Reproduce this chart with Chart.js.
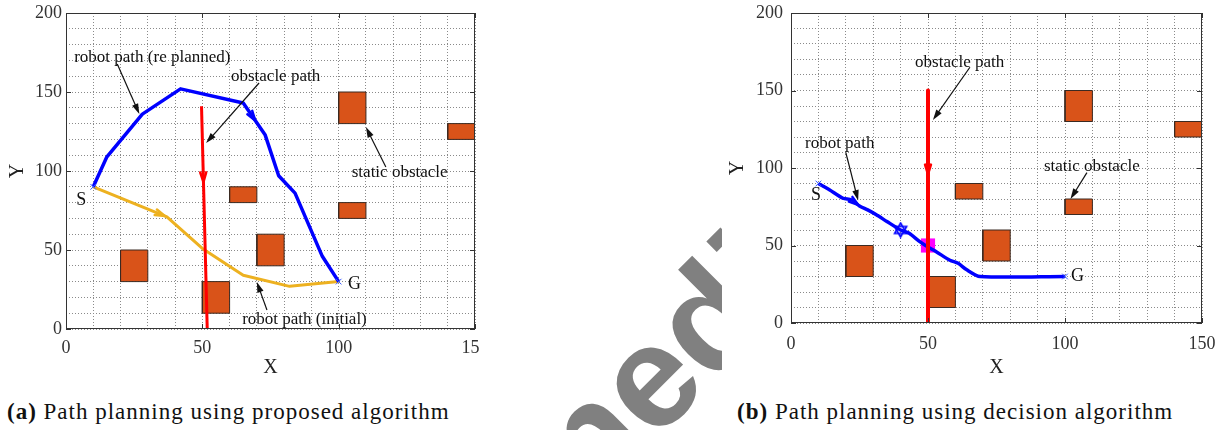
<!DOCTYPE html>
<html>
<head>
<meta charset="utf-8">
<script src="https://cdn.jsdelivr.net/npm/chart.js@4.4.0/dist/chart.umd.min.js"></script>
<style>
body { margin:0; background:#fff; width:1231px; height:430px; position:relative; overflow:hidden; font-family:"Liberation Serif", serif; }
#wm { position:absolute; left:555px; top:0; width:167px; height:430px; overflow:hidden; }
#wm div { position:absolute; left:-37px; top:457px; font:bold 145px/1 "Liberation Sans", Arial, sans-serif; color:#808080; transform-origin:0 123px; transform:rotate(-45deg); white-space:nowrap; }
#left { position:absolute; left:0; top:0; }
#right { position:absolute; left:720px; top:0; }
.cap { position:absolute; top:400px; font-size:23px; line-height:23px; letter-spacing:1px; color:#111; white-space:nowrap; }
</style>
</head>
<body>
<div id="wm"><div>Unedited</div></div>
<canvas id="left" width="480" height="385"></canvas>
<canvas id="right" width="511" height="385"></canvas>
<div class="cap" style="left:7px"><b>(a)</b> Path planning using proposed algorithm</div>
<div class="cap" style="left:737px"><b>(b)</b> Path planning using decision algorithm</div>
<script>
// 軸の目盛りラベル
const xTickLabels = [0, 50, 100, 150];
const yTickLabels = [0, 50, 100, 150, 200];

// 静的障害物（左下の角、幅、高さ）
const obstacleX = [100, 140, 60, 100, 70, 20, 50];
const obstacleY = [130, 120, 80, 70, 40, 30, 10];
const obstacleW = [10, 10, 10, 10, 10, 10, 10];
const obstacleH = [20, 10, 10, 10, 20, 20, 20];

// スタート S とゴール G
const startGoalX = [10, 100];
const startGoalY = [90, 30];

// (a) 提案アルゴリズム
const replannedX = [10, 15, 28, 42, 65, 73, 78, 84, 94, 100];
const replannedY = [90, 109, 136, 152, 143, 123, 97, 86, 46, 30];
const initialX = [10, 37, 50, 65, 82, 100];
const initialY = [90, 71, 51, 34, 27, 30];
const movingAX = [49.7, 51.8];
const movingAY = [141, 0];

// (b) 決定アルゴリズム
const decisionX = [10, 14, 19, 22, 25, 28, 31, 35, 40, 43, 47, 50, 53, 58, 61, 64, 69, 100];
const decisionY = [90, 86, 80.5, 79.5, 75.5, 73, 70, 65.5, 60, 58, 52.5, 49, 46, 40.5, 38.5, 34.5, 30, 30];
const movingBX = [50, 50];
const movingBY = [150, 0];
const starX = [40];
const starY = [60];
const meetX = [50];
const meetY = [50];

// 注釈 (a)
const notesA = ['robot path (re planned)', 'obstacle path', 'static obstacle', 'robot path (initial)', 'S', 'G'];
const notesAX = [3, 60.5, 104.8, 64.6, 3.8, 103.4];
const notesAY = [172, 160, 99, 6.3, 81.6, 28.5];
const pointerAFrom = [[18.8, 167.7], [70.8, 155.7], [117.3, 102.5], [73.7, 12]];
const pointerATo = [[26.9, 136], [51.4, 117.7], [110, 127.8], [70, 29.7]];

// 注釈 (b)
const notesB = ['obstacle path', 'robot path', 'static obstacle', 'S', 'G'];
const notesBX = [45.3, 5.1, 92.3, 7.3, 102.2];
const notesBY = [168, 116, 101, 82.6, 30];
const pointerBFrom = [[65.3, 165], [20, 110], [108, 97]];
const pointerBTo = [[51.8, 131], [24.5, 79], [102, 80]];

const pts = (xs, ys) => xs.map((x, i) => ({x: x, y: ys[i]}));

function hexagram(size, color) {
    let c = document.createElement('canvas');
    c.width = c.height = size;
    let g = c.getContext('2d');
    let r = size / 2 - 1.5, m = size / 2;
    g.strokeStyle = color;
    g.lineWidth = 1.6;
    [-Math.PI / 2, Math.PI / 2].forEach(rot => {
        g.beginPath();
        for (let k = 0; k < 3; k++) {
            let a = rot + k * 2 * Math.PI / 3;
            let px = m + r * Math.cos(a), py = m + r * Math.sin(a);
            if (k) g.lineTo(px, py); else g.moveTo(px, py);
        }
        g.closePath();
        g.stroke();
    });
    return c;
}

function obstacleSets() {
    return obstacleX.map((x, i) => ({
        data: pts([x, x + obstacleW[i], x + obstacleW[i], x, x],
                  [obstacleY[i], obstacleY[i], obstacleY[i] + obstacleH[i], obstacleY[i] + obstacleH[i], obstacleY[i]]),
        showLine: true, fill: 'shape', tension: 0,
        backgroundColor: '#D95319', borderColor: '#3b2a22', borderWidth: 1,
        pointRadius: 0, order: 10
    }));
}

function pathSet(xs, ys, color, width, order, tension) {
    return {
        data: pts(xs, ys), showLine: true, fill: false, tension: tension || 0,
        borderColor: color, borderWidth: width, pointRadius: 0,
        borderJoinStyle: 'round', order: order
    };
}

// 枠線・注釈・矢印
const notePlugin = {
    id: 'notes',
    afterDatasetsDraw(chart, args, o) {
        let ctx = chart.ctx, xs = chart.scales.x, ys = chart.scales.y, a = chart.chartArea;
        let px = v => xs.getPixelForValue(v), py = v => ys.getPixelForValue(v);
        ctx.save();
        // 線上の向き矢印
        o.heads.forEach(h => {
            let i = h.seg;
            let x1 = px(h.xs[i]), y1 = py(h.ys[i]), x2 = px(h.xs[i + 1]), y2 = py(h.ys[i + 1]);
            let bx = x1 + (x2 - x1) * h.t, by = y1 + (y2 - y1) * h.t;
            let ang = Math.atan2(y2 - y1, x2 - x1);
            ctx.strokeStyle = h.color;
            ctx.lineWidth = 2.5;
            ctx.lineCap = 'round';
            ctx.beginPath();
            ctx.moveTo(bx - 10 * Math.cos(ang - 0.3), by - 10 * Math.sin(ang - 0.3));
            ctx.lineTo(bx, by);
            ctx.lineTo(bx - 10 * Math.cos(ang + 0.3), by - 10 * Math.sin(ang + 0.3));
            ctx.stroke();
        });
        // 枠と主目盛り
        ctx.strokeStyle = '#333';
        ctx.lineWidth = 1;
        ctx.lineCap = 'butt';
        ctx.strokeRect(a.left + 0.5, a.top + 0.5, a.right - a.left - 1, a.bottom - a.top - 1);
        ctx.beginPath();
        yTickLabels.forEach(v => {
            let y = Math.round(py(v)) + 0.5;
            ctx.moveTo(a.left, y); ctx.lineTo(a.left + 5, y);
            ctx.moveTo(a.right, y); ctx.lineTo(a.right - 5, y);
        });
        xTickLabels.forEach(v => {
            let x = Math.round(px(v)) + 0.5;
            ctx.moveTo(x, a.bottom); ctx.lineTo(x, a.bottom - 5);
            ctx.moveTo(x, a.top); ctx.lineTo(x, a.top + 5);
        });
        ctx.stroke();
        // 注釈の矢印
        ctx.strokeStyle = '#111';
        ctx.fillStyle = '#111';
        o.from.forEach((f, i) => {
            let x1 = px(f[0]), y1 = py(f[1]), x2 = px(o.to[i][0]), y2 = py(o.to[i][1]);
            let ang = Math.atan2(y2 - y1, x2 - x1);
            ctx.lineWidth = 1.2;
            ctx.beginPath();
            ctx.moveTo(x1, y1);
            ctx.lineTo(x2 - 8 * Math.cos(ang), y2 - 8 * Math.sin(ang));
            ctx.stroke();
            ctx.beginPath();
            ctx.moveTo(x2, y2);
            ctx.lineTo(x2 - 11 * Math.cos(ang - 0.3), y2 - 11 * Math.sin(ang - 0.3));
            ctx.lineTo(x2 - 11 * Math.cos(ang + 0.3), y2 - 11 * Math.sin(ang + 0.3));
            ctx.closePath();
            ctx.fill();
        });
        // 注釈テキスト
        ctx.textBaseline = 'middle';
        ctx.textAlign = 'left';
        o.texts.forEach((t, i) => {
            ctx.font = (t.length == 1 ? 18 : 17) + 'px "Liberation Serif", serif';
            ctx.fillText(t, px(o.tx[i]), py(o.ty[i]));
        });
        ctx.restore();
    }
};

function makeChart(id, sets, yWidth, xHeight, padRight, xPad, notes) {
    let tickFont = {family: '"Liberation Serif", serif', size: 18};
    let titleFont = {family: '"Liberation Serif", serif', size: 20};
    return new Chart(document.getElementById(id).getContext('2d'), {
        type: 'scatter',
        data: {datasets: sets},
        plugins: [notePlugin],
        options: {
            responsive: false,
            animation: false,
            devicePixelRatio: 1,
            layout: {padding: {top: 13, right: padRight, left: 0, bottom: 0}},
            plugins: {legend: {display: false}, tooltip: {enabled: false}, notes: notes},
            scales: {
                x: {
                    type: 'linear', min: 0, max: 150,
                    ticks: {stepSize: 10, autoSkip: false, maxRotation: 0, padding: xPad, color: '#333', font: tickFont,
                        callback: v => xTickLabels.includes(v) ? v : ''},
                    grid: {color: '#8a8a8a', drawTicks: false, lineWidth: 1},
                    border: {display: false, dash: [1, 2]},
                    title: {display: true, text: 'X', color: '#222', font: titleFont, padding: {top: 0, bottom: 5}},
                    afterFit: s => { s.height = xHeight; s.paddingLeft = 0; s.paddingRight = 0; }
                },
                y: {
                    type: 'linear', min: 0, max: 200,
                    ticks: {stepSize: 10, autoSkip: false, padding: yWidth > 68 ? 8 : 4, color: '#333', font: tickFont,
                        callback: v => yTickLabels.includes(v) ? v : ''},
                    grid: {color: '#8a8a8a', drawTicks: false, lineWidth: 1},
                    border: {display: false, dash: [1, 2]},
                    title: {display: true, text: 'Y', color: '#222', font: titleFont, padding: {top: 6, bottom: 0}},
                    afterFit: s => { s.width = yWidth; s.paddingTop = 0; s.paddingBottom = 0; }
                }
            }
        }
    });
}

// (a)
let setsA = obstacleSets().concat([
    pathSet(initialX, initialY, '#EDB120', 3, 4),
    pathSet(replannedX, replannedY, '#0000FF', 3.5, 3),
    pathSet(movingAX, movingAY, '#FF0000', 3, 2),
    {data: pts(startGoalX, startGoalY), pointStyle: 'crossRot', pointRadius: 4, borderColor: '#3355FF', borderWidth: 1, order: 1}
]);
makeChart('left', setsA, 66, 56, 4, 8, {
    texts: notesA, tx: notesAX, ty: notesAY, from: pointerAFrom, to: pointerATo,
    heads: [
        {xs: replannedX, ys: replannedY, seg: 4, t: 0.55, color: '#0000FF'},
        {xs: initialX, ys: initialY, seg: 0, t: 0.97, color: '#EDB120'},
        {xs: movingAX, ys: movingAY, seg: 0, t: 0.34, color: '#FF0000'}
    ]
});

// (b)
let setsB = obstacleSets().concat([
    {data: pts(meetX, meetY), pointStyle: 'rect', pointRadius: 10, backgroundColor: '#FF00FF', borderWidth: 0, order: 5},
    pathSet(decisionX, decisionY, '#0000FF', 3.5, 3, 0.25),
    pathSet(movingBX, movingBY, '#FF0000', 4, 2),
    {data: pts(startGoalX, startGoalY), pointStyle: 'crossRot', pointRadius: 4, borderColor: '#3355FF', borderWidth: 1, order: 1},
    {data: pts(starX, starY), pointStyle: hexagram(17, '#0000FF'), order: 1}
]);
makeChart('right', setsB, 71, 62, 29, 10, {
    texts: notesB, tx: notesBX, ty: notesBY, from: pointerBFrom, to: pointerBTo,
    heads: [
        {xs: decisionX, ys: decisionY, seg: 3, t: 0.85, color: '#0000FF'},
        {xs: movingBX, ys: movingBY, seg: 0, t: 0.36, color: '#FF0000'}
    ]
});
</script>
</body>
</html>
